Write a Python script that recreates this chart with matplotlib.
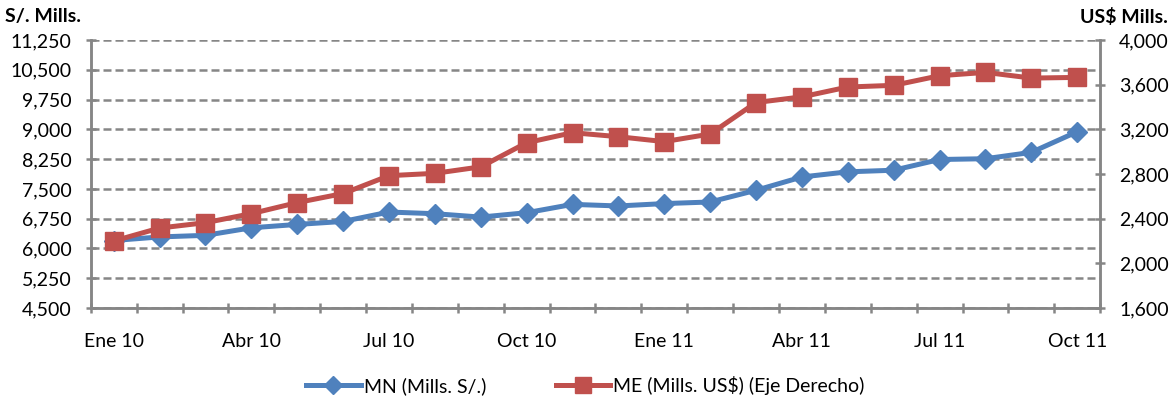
import matplotlib
matplotlib.use("Agg")
import matplotlib.pyplot as plt
from matplotlib.ticker import FuncFormatter, FixedLocator
from matplotlib.lines import Line2D

plt.rcParams['font.family'] = ['Lato', 'DejaVu Sans']

months = ["Ene 10", "Feb 10", "Mar 10", "Abr 10", "May 10", "Jun 10", "Jul 10", "Ago 10",
          "Set 10", "Oct 10", "Nov 10", "Dic 10", "Ene 11", "Feb 11", "Mar 11", "Abr 11",
          "May 11", "Jun 11", "Jul 11", "Ago 11", "Set 11", "Oct 11"]
mn = [6200, 6290, 6330, 6520, 6605, 6680, 6917, 6875, 6790, 6900, 7110,
      7070, 7130, 7170, 7465, 7800, 7930, 7970, 8240, 8260, 8420, 8940]
me = [2200, 2316, 2364, 2445, 2544, 2625, 2785, 2806, 2864, 3080, 3170,
      3134, 3090, 3158, 3440, 3491, 3579, 3594, 3680, 3710, 3659, 3665]
left_ticks = [4500, 5250, 6000, 6750, 7500, 8250, 9000, 9750, 10500, 11250]
right_ticks = [1600, 2000, 2400, 2800, 3200, 3600, 4000]
label_every = 3

blue = '#4F81BD'
red = '#C0504D'
gray = '#868686'

fig = plt.figure(figsize=(11.71, 4.0), dpi=100)
ax = fig.add_axes([0.0775, 0.23, 0.862, 0.67])
ax2 = ax.twinx()

x = list(range(len(months)))
ax.plot(x, mn, color=blue, lw=3.6, marker='D', ms=10.5, mfc=blue, mec=blue, zorder=3)
ax2.plot(x, me, color=red, lw=3.6, marker='s', ms=12.5, mfc=red, mec=red, zorder=3)

ax.set_xlim(-0.5, len(months) - 0.5)
ax.set_ylim(left_ticks[0], left_ticks[-1])
ax2.set_ylim(right_ticks[0], right_ticks[-1])

fmt = FuncFormatter(lambda v, p: f"{int(v):,}")
ax.set_yticks(left_ticks)
ax.yaxis.set_major_formatter(fmt)
ax2.set_yticks(right_ticks)
ax2.yaxis.set_major_formatter(fmt)

ax.set_xticks(x[::label_every])
ax.set_xticklabels(months[::label_every])
ax.xaxis.set_minor_locator(FixedLocator([i - 0.5 for i in range(len(months) + 1)]))
ax.tick_params(axis='x', which='major', length=0, pad=18, labelsize=14, colors='black')
ax.tick_params(axis='x', which='minor', length=7.5, direction='inout', width=1.8, color=gray)
ax.tick_params(axis='y', length=7.5, direction='inout', width=1.8, color=gray, labelsize=14, pad=10)
ax2.tick_params(axis='y', length=7.5, direction='inout', width=1.8, color=gray, labelsize=14, pad=10)

ax.yaxis.grid(True, color=gray, ls=(0, (3.2, 1.6)), lw=1.8)
ax.set_axisbelow(True)

for a in (ax, ax2):
    a.spines['top'].set_visible(False)
    for s in ('left', 'right', 'bottom'):
        a.spines[s].set_color(gray)
        a.spines[s].set_linewidth(1.8)
ax2.patch.set_visible(False)

fig.text(0.004, 0.958, "S/. Mills.", fontsize=14, fontweight='bold', ha='left', va='center')
fig.text(0.997, 0.958, "US$ Mills.", fontsize=14, fontweight='bold', ha='right', va='center')

handles = [Line2D([], [], color=blue, lw=3.6, marker='D', ms=9),
           Line2D([], [], color=red, lw=3.6, marker='s', ms=11)]
fig.legend(handles, ["MN (Mills. S/.)", "ME (Mills. US$) (Eje Derecho)"], loc='center',
           bbox_to_anchor=(0.5, 0.037), ncol=2, frameon=False, fontsize=14,
           handlelength=2.8, columnspacing=3.6, handletextpad=0.15)

fig.savefig("out.png", dpi=100)
